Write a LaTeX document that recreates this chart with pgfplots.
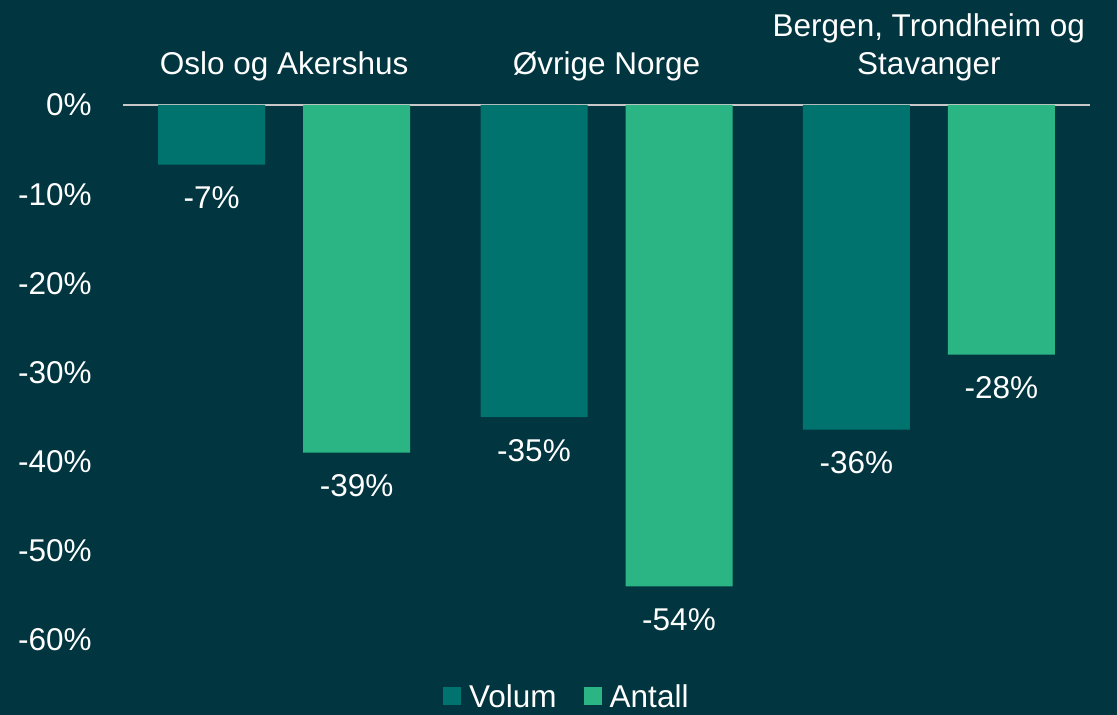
\documentclass[border=0pt]{standalone}
\usepackage{fontspec}
\setmainfont{Liberation Sans}
\usepackage{pgfplots}
\pgfplotsset{compat=1.18}
\definecolor{bg}{HTML}{013540}
\definecolor{volum}{HTML}{00736F}
\definecolor{antall}{HTML}{2BB585}
\definecolor{zline}{HTML}{C8C8C8}
\newcommand\bigf{\fontsize{31.5bp}{38bp}\selectfont}
\begin{document}
\begin{tikzpicture}
\useasboundingbox (0,0) rectangle (1117bp,715bp);
\clip (0,0) rectangle (1117bp,715bp);
\fill[bg] (0,0) rectangle (1117bp,715bp);
\begin{axis}[
 at={(123bp,75bp)}, anchor=south west,
 scale only axis, width=967bp, height=535bp,
 xmin=-0.5, xmax=2.5, ymin=-60, ymax=0,
 ybar, bar width=107bp,
 axis x line=top, axis y line=left,
 x axis line style={draw=zline, line width=1.5bp, -},
 y axis line style={draw=none},
 tick style={draw=none},
 xtick={0,1,2},
 xticklabels={Oslo og Akershus, Øvrige Norge, {Bergen, Trondheim og\\Stavanger}},
 xticklabel style={align=center, font=\bigf, text=white, anchor=south, inner sep=0pt, yshift=22bp},
 ytick={-60,-50,...,0},
 yticklabel={\pgfmathprintnumber[assume math mode=true]{\tick}\%},
 yticklabel style={font=\bigf, text=white, anchor=east, inner sep=0pt, xshift=-29bp},
 nodes near coords={\pgfmathprintnumber[assume math mode=true,fixed,precision=0]{\pgfplotspointmeta}\%},
 every node near coord/.append style={font=\bigf, text=white, anchor=north, inner sep=0pt, yshift=-22bp},
 legend columns=2,
 legend style={at={(0.459,-0.106)}, anchor=center, draw=none, fill=none, text=white, font=\bigf,
   nodes={inner ysep=0pt},
   /tikz/every even column/.append style={column sep=25bp}},
 clip=false,
]
\addplot[fill=volum, draw=none, bar shift=-72.5bp,
  legend image code/.code={\fill[volum] (0bp,-8bp) rectangle (18bp,10bp); \path (24bp,0bp);}]
  coordinates {(0,-6.7) (1,-35) (2,-36.4)};
\addplot[fill=antall, draw=none, bar shift=72.5bp,
  legend image code/.code={\fill[antall] (0bp,-8bp) rectangle (18bp,10bp); \path (24bp,0bp);}]
  coordinates {(0,-39) (1,-54) (2,-28)};
\legend{Volum, Antall}
\end{axis}
\end{tikzpicture}
\end{document}
